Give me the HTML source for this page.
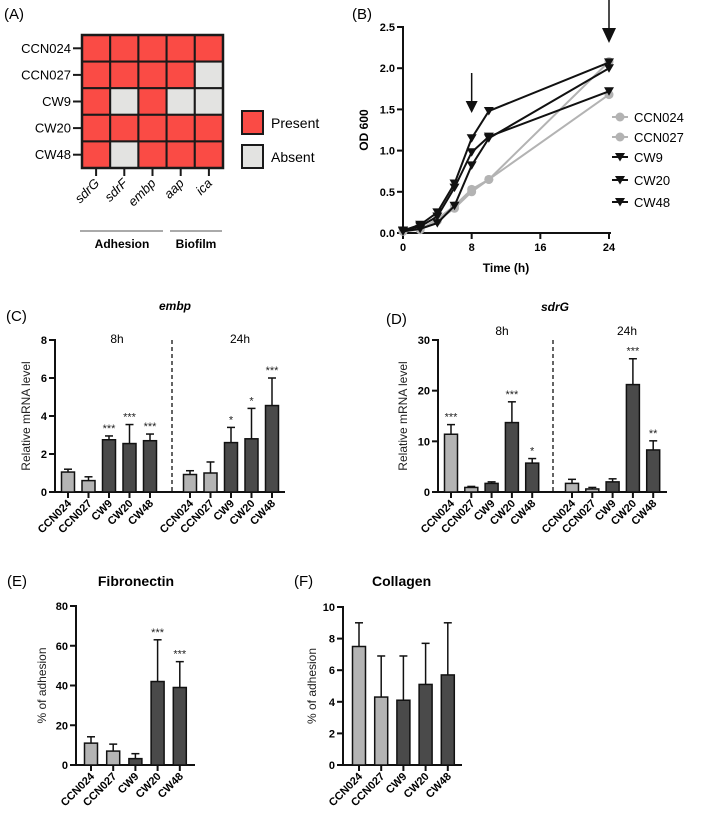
<!DOCTYPE html>
<html><head><meta charset="utf-8">
<style>
html,body{margin:0;padding:0;background:#fff;}
svg{display:block;font-family:"Liberation Sans",Arial,sans-serif;}
</style></head>
<body>
<svg id="fig" width="709" height="815" viewBox="0 0 709 815" xmlns="http://www.w3.org/2000/svg"></svg>
<script>
// ---------- Panel A data ----------
const aRows = ["CCN024","CCN027","CW9","CW20","CW48"];
const aCols = ["sdrG","sdrF","embp","aap","ica"];
const aPresence = [
  [1,1,1,1,1],
  [1,1,1,1,0],
  [1,0,1,0,0],
  [1,1,1,1,1],
  [1,0,1,1,1]
];
// ---------- Panel B data ----------
const bTimes = [0,2,4,6,8,10,24];
const bSeriesNames = ["CCN024","CCN027","CW9","CW20","CW48"];
const bCCN024 = [0.02,0.05,0.15,0.30,0.50,0.65,2.08];
const bCCN027 = [0.02,0.04,0.17,0.33,0.53,0.65,1.68];
const bCW9 = [0.03,0.10,0.25,0.60,1.15,1.48,2.07];
const bCW20 = [0.03,0.08,0.20,0.55,0.98,1.17,1.72];
const bCW48 = [0.02,0.05,0.12,0.33,0.82,1.15,2.00];
const bYTicks = [0,0.5,1.0,1.5,2.0,2.5];
const bXTicks = [0,8,16,24];
// ---------- Panel C data ----------
const strains = ["CCN024","CCN027","CW9","CW20","CW48"];
const cVals8 = [1.05,0.6,2.75,2.55,2.7];
const cErr8 = [0.15,0.2,0.2,1.0,0.35];
const cStars8 = ["","","***","***","***"];
const cVals24 = [0.92,1.0,2.6,2.8,4.55];
const cErr24 = [0.2,0.58,0.8,1.6,1.45];
const cStars24 = ["","","*","*","***"];
const cYTicks = [0,2,4,6,8];
// ---------- Panel D data ----------
const dVals8 = [11.4,0.9,1.7,13.7,5.7];
const dErr8 = [1.9,0.2,0.3,4.1,0.9];
const dStars8 = ["***","","","***","*"];
const dVals24 = [1.7,0.6,2.0,21.2,8.3];
const dErr24 = [0.8,0.3,0.6,5.1,1.8];
const dStars24 = ["","","","***","**"];
const dYTicks = [0,10,20,30];
// ---------- Panel E data ----------
const eVals = [11,7,3.2,42,39];
const eErr = [3.2,3.5,2.5,21,13];
const eStars = ["","","","***","***"];
const eYTicks = [0,20,40,60,80];
// ---------- Panel F data ----------
const fVals = [7.5,4.3,4.1,5.1,5.7];
const fErr = [1.5,2.6,2.8,2.6,3.3];
const fYTicks = [0,2,4,6,8,10];
const barColors = ["#b4b4b4","#b4b4b4","#4a4a4a","#4a4a4a","#4a4a4a"];

const NS = "http://www.w3.org/2000/svg";
const svg = document.getElementById("fig");
function mk(tag, attrs, parent){
  const e = document.createElementNS(NS, tag);
  for (const k in attrs) e.setAttribute(k, attrs[k]);
  (parent||svg).appendChild(e);
  return e;
}
function txt(str, x, y, attrs, parent){
  const t = mk("text", Object.assign({x:x, y:y}, attrs), parent);
  t.textContent = str;
  return t;
}

// ================= Panel A =================
(function(){
  const g = mk("g",{});
  
  
  const lab = txt("(A)",4,19,{"font-size":15},g);
  
  
  const x0=82, y0=35, cw=28.2, rh=26.6;
  aRows.forEach((r,i)=>{
    aCols.forEach((c,j)=>{
      const cell = mk("rect",{x:x0+j*cw,y:y0+i*rh,width:cw,height:rh,fill:aPresence[i][j]?"#fa4b45":"#e3e3e1",stroke:"#1a1a1a","stroke-width":2},g);
      
      
    });
    mk("line",{x1:73,x2:81,y1:y0+(i+0.5)*rh,y2:y0+(i+0.5)*rh,stroke:"#1a1a1a","stroke-width":2},g);
    const t = txt(r,71,y0+(i+0.5)*rh+4.5,{"font-size":13,"text-anchor":"end"},g);
    
    
  });
  mk("rect",{x:x0,y:y0,width:cw*5,height:rh*5,fill:"none",stroke:"#1a1a1a","stroke-width":2.5},g);
  aCols.forEach((c,j)=>{
    const cx = x0+(j+0.5)*cw;
    mk("line",{x1:cx,x2:cx,y1:169,y2:176,stroke:"#1a1a1a","stroke-width":2},g);
    const t = txt(c,cx+4,184,{"font-size":13,"font-style":"italic","text-anchor":"end",transform:"rotate(-45 "+(cx+4)+" 184)"},g);
    
    
  });
  mk("rect",{x:242,y:111,width:21,height:23,fill:"#fa4b45",stroke:"#1a1a1a","stroke-width":2},g);
  const p = txt("Present",271,128,{"font-size":14},g);
  
  
  mk("rect",{x:242,y:145,width:21,height:23,fill:"#e3e3e1",stroke:"#1a1a1a","stroke-width":2},g);
  const a = txt("Absent",271,162,{"font-size":14},g);
  
  
  mk("line",{x1:80,x2:163,y1:231,y2:231,stroke:"#555","stroke-width":1},g);
  mk("line",{x1:170,x2:222,y1:231,y2:231,stroke:"#555","stroke-width":1},g);
  const ad = txt("Adhesion",122,248,{"font-size":12,"font-weight":"bold","text-anchor":"middle"},g);
  
  
  const bf = txt("Biofilm",196,248,{"font-size":12,"font-weight":"bold","text-anchor":"middle"},g);
  
  
})();

// ================= Panel B =================
(function(){
  const g = mk("g",{});
  
  
  const lab = txt("(B)",352,19,{"font-size":15},g);
  
  
  const xs = v => 403 + v*(609-403)/24;
  const ys = v => 233 - v*(233-27)/2.5;
  mk("line",{x1:403,x2:403,y1:26,y2:234,stroke:"#111","stroke-width":2},g);
  mk("line",{x1:402,x2:611,y1:233,y2:233,stroke:"#111","stroke-width":2},g);
  bYTicks.forEach(v=>{
    mk("line",{x1:397,x2:403,y1:ys(v),y2:ys(v),stroke:"#111","stroke-width":2},g);
    const t = txt(v.toFixed(1),395,ys(v)+4,{"font-size":11,"font-weight":"bold","text-anchor":"end"},g);
    
    
  });
  bXTicks.forEach(v=>{
    mk("line",{x1:xs(v),x2:xs(v),y1:233,y2:239,stroke:"#111","stroke-width":2},g);
    const t = txt(String(v),xs(v),251,{"font-size":11,"font-weight":"bold","text-anchor":"middle"},g);
    
    
  });
  const yt = txt("OD 600",368,130,{"font-size":12,"font-weight":"bold","text-anchor":"middle",transform:"rotate(-90 368 130)"},g);
  
  
  const xt = txt("Time (h)",506,272,{"font-size":12,"font-weight":"bold","text-anchor":"middle"},g);
  
  
  const series = [bCCN024,bCCN027,bCW9,bCW20,bCW48];
  const gray = [true,true,false,false,false];
  const order = [0,1,4,3,2];
  order.forEach(si=>{
    const vals = series[si];
    const col = gray[si] ? "#b3b3b3" : "#111";
    const pts = vals.map((v,i)=>xs(bTimes[i])+","+ys(v)).join(" ");
    const pl = mk("polyline",{points:pts,fill:"none",stroke:col,"stroke-width":2},g);
    
    
    vals.forEach((v,i)=>{
      const x=xs(bTimes[i]), y=ys(v);
      let m;
      if (gray[si]) m = mk("circle",{cx:x,cy:y,r:4.5,fill:col},g);
      else m = mk("polygon",{points:(x-5)+","+(y-4)+" "+(x+5)+","+(y-4)+" "+x+","+(y+4.5),fill:col},g);
      
      
    });
  });
  // arrows
  const ar1 = mk("g",{},g);
  
  
  mk("line",{x1:xs(8),x2:xs(8),y1:73,y2:104,stroke:"#111","stroke-width":1.5},ar1);
  mk("polygon",{points:(xs(8)-6)+",101 "+(xs(8)+6)+",101 "+xs(8)+",113",fill:"#111"},ar1);
  const ar2 = mk("g",{},g);
  
  
  mk("line",{x1:xs(24),x2:xs(24),y1:0,y2:32,stroke:"#111","stroke-width":1.5},ar2);
  mk("polygon",{points:(xs(24)-7)+",28 "+(xs(24)+7)+",28 "+xs(24)+",43",fill:"#111"},ar2);
  // legend
  const ly = [117,137,157,180,202];
  bSeriesNames.forEach((n,i)=>{
    const col = gray[i] ? "#b3b3b3" : "#111";
    const lg = mk("g",{},g);
    
    
    mk("line",{x1:612,x2:628,y1:ly[i],y2:ly[i],stroke:col,"stroke-width":2},lg);
    if (gray[i]) mk("circle",{cx:620,cy:ly[i],r:4.5,fill:col},lg);
    else mk("polygon",{points:"615,"+(ly[i]-4)+" 625,"+(ly[i]-4)+" 620,"+(ly[i]+4.5),fill:col},lg);
    txt(n,634,ly[i]+5,{"font-size":13},lg);
  });
})();

// ================= Bar chart helper =================
function barPanel(opts, groups){
  const g = mk("g",{});
  
  
  const ys = v => opts.y0 - v*(opts.y0-opts.yTop)/opts.yMax;
  mk("line",{x1:opts.ax,x2:opts.ax,y1:ys(opts.yMax)-1,y2:opts.y0+1,stroke:"#111","stroke-width":2},g);
  mk("line",{x1:opts.ax-1,x2:opts.axRight,y1:opts.y0,y2:opts.y0,stroke:"#111","stroke-width":2},g);
  opts.ticks.forEach(v=>{
    mk("line",{x1:opts.ax-6,x2:opts.ax,y1:ys(v),y2:ys(v),stroke:"#111","stroke-width":2},g);
    const t = txt(String(v),opts.ax-8,ys(v)+4,{"font-size":11,"font-weight":"bold","text-anchor":"end"},g);
    
    
  });
  const yt = txt(opts.ytitle,opts.ytx,(opts.y0+ys(opts.yMax))/2,{"font-size":12,"text-anchor":"middle",fill:"#222",transform:"rotate(-90 "+opts.ytx+" "+((opts.y0+ys(opts.yMax))/2)+")"},g);
  
  
  groups.forEach(gr=>{
    gr.vals.forEach((v,i)=>{
      const cx = gr.x0 + i*opts.step;
      const w = opts.bw;
      const top = ys(v), et = ys(v+gr.err[i]);
      const el = mk("line",{x1:cx,x2:cx,y1:et,y2:top,stroke:"#111","stroke-width":1.5},g);
      
      
      mk("line",{x1:cx-4,x2:cx+4,y1:et,y2:et,stroke:"#111","stroke-width":1.5},g);
      const r = mk("rect",{x:cx-w/2,y:top,width:w,height:opts.y0-top,fill:barColors[i],stroke:"#111","stroke-width":1.5},g);
      
      
      mk("line",{x1:cx,x2:cx,y1:opts.y0,y2:opts.y0+6,stroke:"#111","stroke-width":2},g);
      const lx = cx+4, ly = opts.y0+12;
      const t = txt(strains[i],lx,ly,{"font-size":11,"font-weight":"bold","text-anchor":"end",transform:"rotate(-45 "+lx+" "+ly+")"},g);
      
      
      if (gr.stars && gr.stars[i]) {
        const s = txt(gr.stars[i],cx,et-4,{"font-size":11,"text-anchor":"middle",fill:"#222"},g);
        
        
      }
    });
  });
  return {g:g, ys:ys};
}

// ================= Panel C =================
(function(){
  const r = barPanel({name:"panel-c-embp",ax:55,axRight:285,y0:492,yTop:340,yMax:8,ticks:cYTicks,bw:13,step:20.5,ytitle:"Relative mRNA level",ytx:30},
    [{x0:68,vals:cVals8,err:cErr8,stars:cStars8},{x0:190,vals:cVals24,err:cErr24,stars:cStars24}]);
  const g=r.g;
  const d = mk("line",{x1:172,x2:172,y1:340,y2:492,stroke:"#111","stroke-width":1.3,"stroke-dasharray":"4,3"},g);
  
  
  const l = txt("(C)",6,321,{"font-size":15},g);
  
  
  const t = txt("embp",175,310,{"font-size":12,"font-weight":"bold","font-style":"italic","text-anchor":"middle"},g);
  
  
  const h8 = txt("8h",117,343,{"font-size":12,"text-anchor":"middle"},g);
  
  
  const h24 = txt("24h",240,343,{"font-size":12,"text-anchor":"middle"},g);
  
  
})();

// ================= Panel D =================
(function(){
  const r = barPanel({name:"panel-d-sdrg",ax:438,axRight:667,y0:492,yTop:340,yMax:30,ticks:dYTicks,bw:13,step:20.3,ytitle:"Relative mRNA level",ytx:407},
    [{x0:451,vals:dVals8,err:dErr8,stars:dStars8},{x0:572,vals:dVals24,err:dErr24,stars:dStars24}]);
  const g=r.g;
  const d = mk("line",{x1:553,x2:553,y1:340,y2:492,stroke:"#111","stroke-width":1.3,"stroke-dasharray":"4,3"},g);
  
  
  const l = txt("(D)",386,324,{"font-size":15},g);
  
  
  const t = txt("sdrG",555,311,{"font-size":12,"font-weight":"bold","font-style":"italic","text-anchor":"middle"},g);
  
  
  const h8 = txt("8h",502,335,{"font-size":12,"text-anchor":"middle"},g);
  
  
  const h24 = txt("24h",627,335,{"font-size":12,"text-anchor":"middle"},g);
  
  
})();

// ================= Panel E =================
(function(){
  const r = barPanel({name:"panel-e-fibronectin",ax:76,axRight:195,y0:765,yTop:606,yMax:80,ticks:eYTicks,bw:13,step:22.2,ytitle:"% of adhesion",ytx:46},
    [{x0:91,vals:eVals,err:eErr,stars:eStars}]);
  const l = txt("(E)",7,586,{"font-size":15},r.g);
  
  
  const t = txt("Fibronectin",136,586,{"font-size":14,"font-weight":"bold","text-anchor":"middle"},r.g);
  
  
})();

// ================= Panel F =================
(function(){
  const r = barPanel({name:"panel-f-collagen",ax:343,axRight:462,y0:765,yTop:607,yMax:10,ticks:fYTicks,bw:13,step:22.2,ytitle:"% of adhesion",ytx:316},
    [{x0:359,vals:fVals,err:fErr,stars:null}]);
  const l = txt("(F)",294,586,{"font-size":15},r.g);
  
  
  const t = txt("Collagen",372,586,{"font-size":14,"font-weight":"bold"},r.g);
  
  
})();
</script>
</body></html>
